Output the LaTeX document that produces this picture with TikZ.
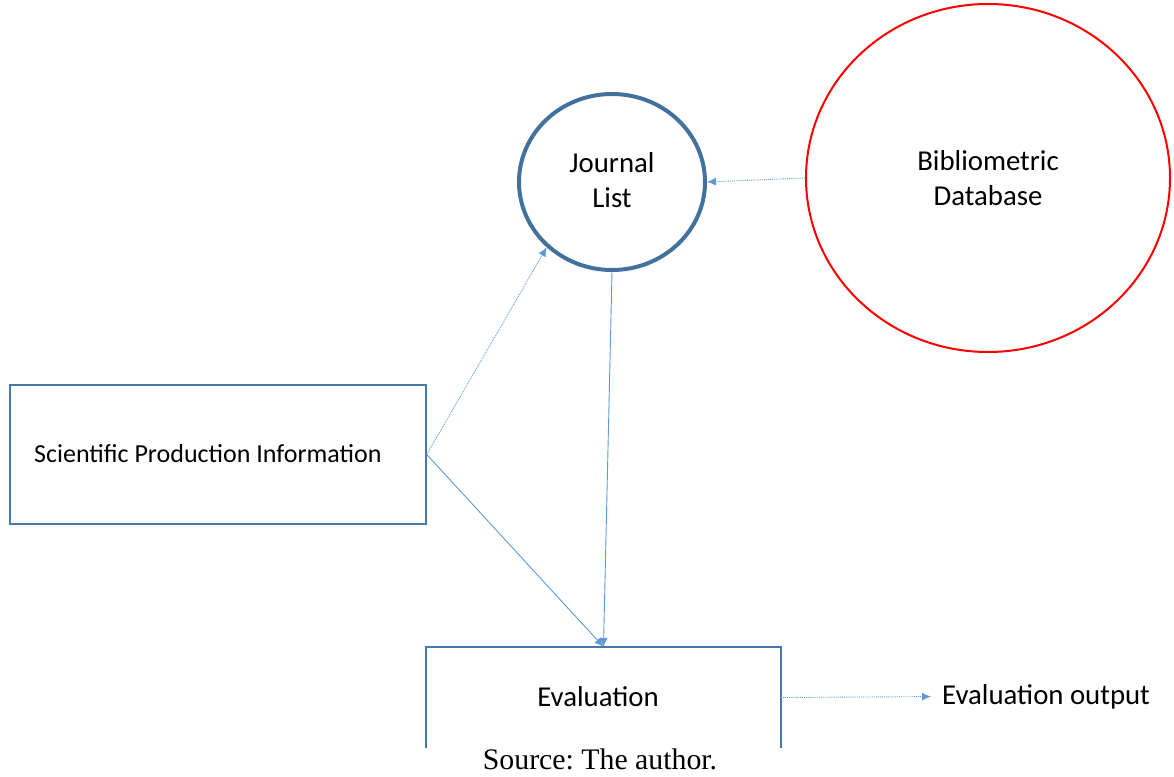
\documentclass[tikz,border=0pt]{standalone}
\usepackage{fontspec}
\setmainfont{Carlito}
\newfontfamily\srcfont{Liberation Serif}
\usetikzlibrary{shapes.geometric,arrows.meta}
\definecolor{arrowblue}{HTML}{5B9BD5}
\definecolor{boxblue}{HTML}{4A78AE}
\definecolor{ringblue}{HTML}{41719C}
\begin{document}
\frenchspacing
\begin{tikzpicture}[x=1pt,y=-1pt,
  ring/.style={ellipse,draw,inner sep=0pt},
  label/.style={inner sep=0pt,align=center,font=\fontsize{28.8}{35}\selectfont},
  plainbox/.style={rectangle,draw=boxblue,line width=1.5pt,inner sep=0pt},
  link/.style={draw=arrowblue,line width=0.9pt,-{Latex[length=9pt,width=8pt]}},
  dotlink/.style={link,densely dotted}]
\useasboundingbox (0,0) rectangle (1174,776);

% circles
\node[ring,draw=ringblue,line width=4pt,minimum width=186pt,minimum height=176pt]
  (journal) at (612,182) {};
\node[label] (journaltext) at (612,180) {Journal\\List};
\node[ring,draw=red,line width=2pt,minimum width=364pt,minimum height=348pt]
  (bib) at (988,178) {};
\node[label] (bibtext) at (988,178.5) {Bibliometric\\Database};

% input box
\node[plainbox,minimum width=416pt,minimum height=139pt] (sci) at (218,454.5) {};
\node[anchor=west,inner sep=0pt,font=\fontsize{26}{30}\selectfont]
  (scitext) at (34,454) {Scientific Production Information};

% evaluation box, open at the bottom
\node[inner sep=0pt,minimum width=355pt,minimum height=101pt] (eval) at (603.5,697.5) {};
\draw[boxblue,line width=1.5pt] (eval.south west) -- (eval.north west)
  -- (eval.north east) -- (eval.south east);
\node[label] (evaltext) at (598,697) {Evaluation};

\node[label,anchor=west] (out) at (942,696.5) {Evaluation output};

% source line
\node[font=\srcfont\fontsize{29.8}{34}\selectfont,inner sep=0pt,anchor=base]
  (src) at (600,769) {Source: The author.};

% connectors
\draw[dotlink] (bib.west) -- (journal.east);
\draw[dotlink] (sci.east) -- (journal.225);
\draw[link] (sci.east) -- (eval.north);
\draw[link] (journal.south) -- (eval.north);
\draw[dotlink,shorten >=11pt] (eval.east) -- (out.west);
\end{tikzpicture}
\end{document}
